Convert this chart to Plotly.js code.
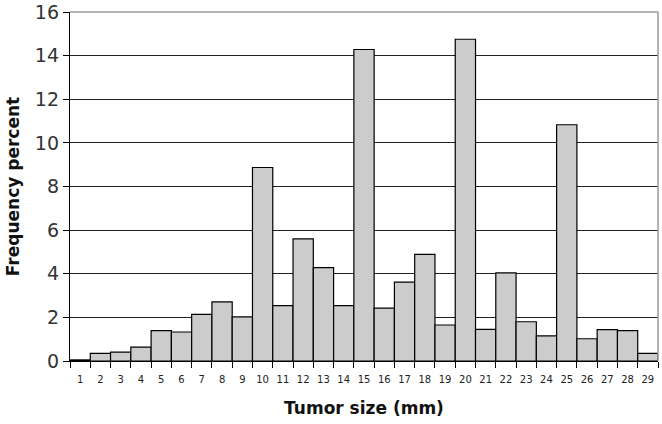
<!DOCTYPE html>
<html>
<head>
<meta charset="utf-8">
<script src="https://cdn.plot.ly/plotly-3.0.1.min.js"></script>
<style>html,body{margin:0;padding:0;background:#fff;}#chart{width:662px;height:424px;}</style>
</head>
<body>
<div id="chart"></div>
<script>
const sizes = ["1","2","3","4","5","6","7","8","9","10","11","12","13","14","15","16","17","18","19","20","21","22","23","24","25","26","27","28","29"];
const freq = [0.05,0.35,0.41,0.64,1.39,1.33,2.14,2.71,2.02,8.87,2.54,5.60,4.28,2.54,14.28,2.42,3.62,4.89,1.65,14.75,1.45,4.04,1.80,1.15,10.83,1.02,1.44,1.39,0.35];
const yTicks = [0,2,4,6,8,10,12,14,16];

const trace = {
  type: 'bar',
  x: sizes,
  y: freq,
  marker: {color: '#cccccc', line: {color: '#000000', width: 1.2}},
  hoverinfo: 'x+y'
};

const layout = {
  width: 662, height: 424,
  margin: {l: 70, r: 4, t: 12, b: 63},
  paper_bgcolor: '#ffffff', plot_bgcolor: '#ffffff',
  bargap: 0,
  showlegend: false,
  font: {family: '"DejaVu Sans", Arial, sans-serif', color: '#222'},
  xaxis: {
    type: 'category',
    tickson: 'boundaries',
    tickangle: 0,
    ticks: 'outside', ticklen: 6, tickcolor: '#000', tickwidth: 1,
    ticklabelstandoff: 9,
    showline: true, linecolor: '#000', linewidth: 1.2,
    showgrid: false,
    tickfont: {size: 10, color: '#222'},
    title: {text: '<b>Tumor size (mm)</b>', font: {size: 17, color: '#111'}, standoff: 17}
  },
  yaxis: {
    range: [0, 16],
    tickvals: yTicks,
    ticktext: yTicks.map(String),
    ticks: 'outside', ticklen: 6, tickcolor: '#000', tickwidth: 1,
    showline: true, linecolor: '#000', linewidth: 1.2,
    showgrid: true, gridcolor: '#222', gridwidth: 1.2,
    zeroline: false,
    tickfont: {size: 19, color: '#333'},
    title: {text: '<b>Frequency percent</b>', font: {size: 17, color: '#111'}, standoff: 10}
  },
  shapes: [
    {type: 'line', xref: 'paper', yref: 'paper', x0: 0, x1: 1, y0: 1, y1: 1, line: {color: '#999', width: 1.5}},
    {type: 'line', xref: 'paper', yref: 'paper', x0: 1, x1: 1, y0: 0, y1: 1, line: {color: '#999', width: 1.5}}
  ]
};

Plotly.newPlot('chart', [trace], layout, {displayModeBar: false, staticPlot: true});
</script>
</body>
</html>
